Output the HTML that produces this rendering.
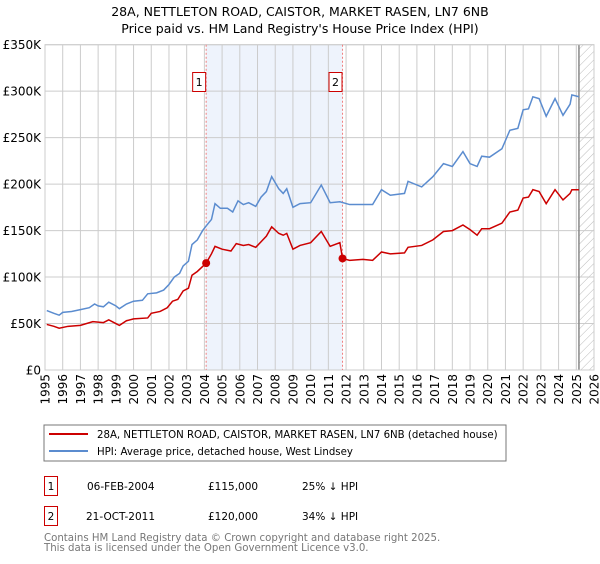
<!DOCTYPE html>
<html><head><meta charset="utf-8"><style>
body{margin:0;background:#fff;width:600px;height:560px;overflow:hidden;font-family:"DejaVu Sans","Liberation Sans",sans-serif}
svg text{font-family:"DejaVu Sans","Liberation Sans",sans-serif}
</style></head><body>
<svg id="chart" width="600" height="560">
<defs><pattern id="hatch" width="6" height="6" patternUnits="userSpaceOnUse" patternTransform="rotate(45)"><line x1="0" y1="0" x2="0" y2="6" stroke="#bbb" stroke-width="1"/></pattern></defs>
<text x="300" y="16" text-anchor="middle" font-size="12.5">28A, NETTLETON ROAD, CAISTOR, MARKET RASEN, LN7 6NB</text>
<text x="300" y="33" text-anchor="middle" font-size="12.5">Price paid vs. HM Land Registry's House Price Index (HPI)</text>
<g id="plot"></g>
<rect x="44" y="425" width="462" height="36" fill="#fff" stroke="#777"/>
<line x1="49" y1="434" x2="88" y2="434" stroke="#cc0000" stroke-width="2"/>
<text x="97" y="438" font-size="10.2">28A, NETTLETON ROAD, CAISTOR, MARKET RASEN, LN7 6NB (detached house)</text>
<line x1="49" y1="451" x2="88" y2="451" stroke="#5b8ccf" stroke-width="2"/>
<text x="97" y="455" font-size="10.2">HPI: Average price, detached house, West Lindsey</text>
<g font-size="10.5">
<rect x="44.5" y="476.5" width="13" height="19" fill="none" stroke="#cc0000"/>
<text x="51" y="490" text-anchor="middle">1</text>
<text x="87" y="490">06-FEB-2004</text>
<text x="208" y="490">£115,000</text>
<text x="302" y="490">25% ↓ HPI</text>
<rect x="44.5" y="506.5" width="13" height="19" fill="none" stroke="#cc0000"/>
<text x="51" y="520" text-anchor="middle">2</text>
<text x="86" y="520">21-OCT-2011</text>
<text x="208" y="520">£120,000</text>
<text x="302" y="520">34% ↓ HPI</text>
</g>
<text x="44" y="541" font-size="10.2" fill="#777">Contains HM Land Registry data © Crown copyright and database right 2025.</text>
<text x="44" y="551" font-size="10.2" fill="#777">This data is licensed under the Open Government Licence v3.0.</text>
</svg>
<script>
const hpiYears=[1995.1,1995.5,1995.8,1996.0,1996.5,1997.0,1997.5,1997.8,1998.0,1998.3,1998.6,1999.0,1999.2,1999.6,2000.0,2000.5,2000.8,2001.3,2001.7,2002.0,2002.3,2002.6,2002.8,2003.1,2003.3,2003.6,2003.9,2004.1,2004.4,2004.6,2004.9,2005.3,2005.6,2005.9,2006.2,2006.5,2006.9,2007.2,2007.5,2007.8,2008.2,2008.45,2008.65,2009.0,2009.4,2010.0,2010.6,2011.1,2011.65,2012.2,2012.95,2013.5,2014.0,2014.5,2015.3,2015.5,2016.27,2016.9,2017.5,2018.0,2018.6,2019.0,2019.4,2019.66,2020.1,2020.8,2021.25,2021.7,2022.0,2022.3,2022.55,2022.9,2023.3,2023.8,2024.25,2024.65,2024.75,2025.15];
const hpiValues=[64,61,59,62,63,65,67,71,69,68,73,69,66,71,74,75,82,83,86,92,100,104,112,117,135,140,150,155,162,179,174,174,170,182,178,180,176,186,192,208,195,190,195,175,179,180,199,180,181,178,178,178,194,188,190,203,197,208,222,219,235,222,219,230,229,238,258,260,280,281,294,292,273,292,274,286,296,294];
const ppYears=[1995.1,1995.5,1995.8,1996.3,1997.0,1997.7,1998.3,1998.6,1999.0,1999.2,1999.6,2000.0,2000.8,2001.0,2001.5,2001.9,2002.2,2002.5,2002.8,2003.1,2003.3,2003.6,2004.1,2004.4,2004.6,2005.0,2005.5,2005.8,2006.2,2006.5,2006.9,2007.2,2007.5,2007.8,2008.2,2008.45,2008.65,2009.0,2009.4,2010.0,2010.6,2011.1,2011.65,2011.8,2012.2,2012.95,2013.5,2014.0,2014.5,2015.3,2015.5,2016.27,2016.9,2017.5,2018.0,2018.6,2019.0,2019.4,2019.66,2020.1,2020.8,2021.25,2021.7,2022.0,2022.3,2022.55,2022.9,2023.3,2023.8,2024.25,2024.65,2024.75,2025.15];
const ppValues=[49,47,45,47,48,52,51,54,50,48,53,55,56,61,63,67,74,76,85,88,102,106,115,125,133,130,128,136,134,135,132,138,144,154,147,145,147,130,134,137,149,133,137,120,118,119,118,127,125,126,132,134,140,149,150,156,151,145,152,152,158,170,172,185,186,194,192,179,194,183,190,194,194];
const sales=[{label:"1",year:2004.1,value:115},{label:"2",year:2011.8,value:120}];
const yTicks=[0,50,100,150,200,250,300,350];
const yTickLabels=["£0","£50K","£100K","£150K","£200K","£250K","£300K","£350K"];
const xTicks=[1995,1996,1997,1998,1999,2000,2001,2002,2003,2004,2005,2006,2007,2008,2009,2010,2011,2012,2013,2014,2015,2016,2017,2018,2019,2020,2021,2022,2023,2024,2025,2026];
const dataEnd=2025.15;

const L=45,R=594,T=44.7,B=370;
const x=v=>L+(v-1995)/31*(R-L);
const y=v=>B-v/350*(B-T);
const g=document.getElementById('plot');
const NS='http://www.w3.org/2000/svg';
function mk(tag,attrs,parent){const e=document.createElementNS(NS,tag);for(const k in attrs)e.setAttribute(k,attrs[k]);(parent||g).appendChild(e);return e;}

let e=mk('rect',{x:x(sales[0].year),y:T,width:x(sales[1].year)-x(sales[0].year),height:B-T,fill:'#eef3fc'});


e=mk('rect',{x:x(dataEnd),y:T,width:R-x(dataEnd),height:B-T,fill:'url(#hatch)'});


xTicks.forEach(t=>{
  const l=mk('line',{x1:x(t),x2:x(t),y1:T,y2:B,stroke:'#ccc','stroke-width':1});
  
  
  const tx=mk('text',{x:0,y:0,'font-size':12,'text-anchor':'end',transform:`translate(${x(t)+4.5},${B+4}) rotate(-90)`});
  tx.textContent=t;
  
  
});
yTicks.forEach((t,i)=>{
  const l=mk('line',{x1:L,x2:R,y1:y(t),y2:y(t),stroke:'#ccc','stroke-width':1});
  
  
  const tx=mk('text',{x:L-4,y:y(t)+4.5,'font-size':12,'text-anchor':'end'});
  tx.textContent=yTickLabels[i];
  
  
});
e=mk('line',{x1:x(dataEnd),x2:x(dataEnd),y1:T,y2:B,stroke:'#888','stroke-width':1.5});


e=mk('rect',{x:L,y:T,width:R-L,height:B-T,fill:'none',stroke:'#ccc'});


sales.forEach(s=>{
  const l=mk('line',{x1:x(s.year),x2:x(s.year),y1:T,y2:B,stroke:'#f08080','stroke-dasharray':'2,2','stroke-width':1});
  
  
});
e=mk('polyline',{points:hpiYears.map((v,i)=>x(v)+','+y(hpiValues[i])).join(' '),fill:'none',stroke:'#5b8ccf','stroke-width':1.5});


e=mk('polyline',{points:ppYears.map((v,i)=>x(v)+','+y(ppValues[i])).join(' '),fill:'none',stroke:'#cc0000','stroke-width':1.5});


sales.forEach(s=>{
  const c=mk('circle',{cx:x(s.year),cy:y(s.value),r:4,fill:'#cc0000'});
  
  
  const bx=x(s.year)-6.5;
  const r=mk('rect',{x:bx-7,y:72.5,width:13,height:19,fill:'#fff',stroke:'#cc0000'});
  
  
  const tx=mk('text',{x:bx-0.5,y:86,'font-size':11,'text-anchor':'middle'});
  tx.textContent=s.label;
  
  
});
</script>
</body></html>
